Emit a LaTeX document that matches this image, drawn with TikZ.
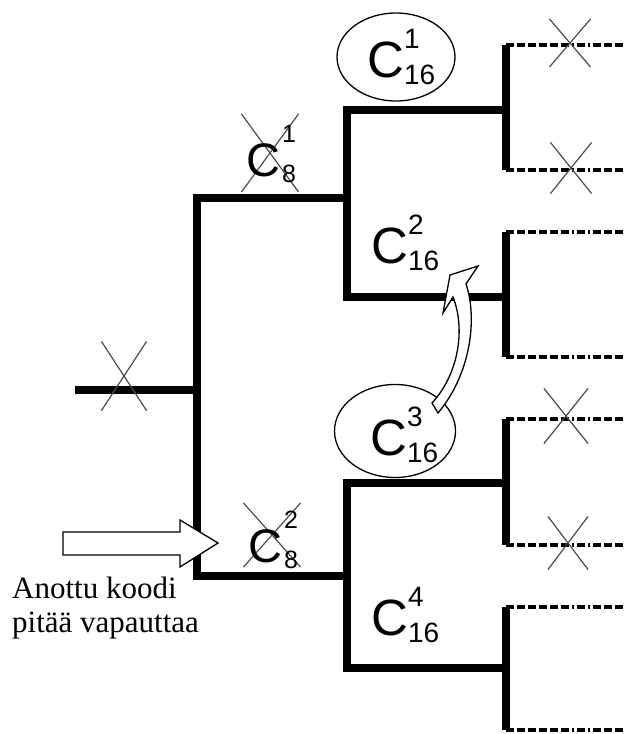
\documentclass[tikz,border=0pt]{standalone}
\usepackage{fontspec}
\setmainfont{Liberation Serif}
\newfontfamily\arialfont{Liberation Sans}
\usepackage{tikz}
\usetikzlibrary{shapes.geometric,shapes.misc}

\newcommand{\cbig}[2]{\fontsize{51}{51}\selectfont C\kern0pt\fontsize{28}{28}\selectfont\rlap{\raisebox{29pt}{#1}}\raisebox{-7pt}{#2}}
\newcommand{\csmall}[2]{\fontsize{47}{47}\selectfont C\kern2pt\fontsize{25}{25}\selectfont\rlap{\raisebox{34pt}{#1}}\raisebox{-6pt}{#2}}

\begin{document}
\begin{tikzpicture}[x=1pt,y=-1pt,line join=miter,
  branch/.style={line width=8pt},
  leaf/.style={line width=4pt,dash pattern=on 8pt off 3pt on 8pt off 3pt on 8pt off 3pt on 8pt off 3pt on 8pt off 3pt on 8pt off 3pt on 2pt off 3pt on 8pt off 3pt on 2pt off 3pt on 8pt off 3pt},
  kill/.style={cross out,draw=black!70,line width=1.2pt,inner sep=0pt},
  oval/.style={ellipse,draw,line width=1.3pt,inner sep=0pt},
  lbl/.style={font=\arialfont,inner sep=0pt,anchor=base west},
  block/.style={draw,line width=1.3pt,fill=white}]
\useasboundingbox (0,0) rectangle (625,734);
\coordinate (in) at (75,390);
\coordinate (n0) at (197,390);
\coordinate (c8a) at (347,198);
\coordinate (c8b) at (347,576);
\coordinate (c16a) at (506,110);
\coordinate (c16b) at (506,297);
\coordinate (c16c) at (506,483);
\coordinate (c16d) at (506,668);
\draw[branch] (in) -- (n0);
\draw[branch] (c8a) -| (n0) |- (c8b);
\draw[branch] (c16a) -| (c8a) |- (c16b);
\draw[branch] (c16c) -| (c8b) |- (c16d);
\foreach \n/\t/\b in {c16a/45/170,c16b/232/357,c16c/419/545,c16d/607/730}{
  \draw[branch] (\n |- 0,\t) -- (\n |- 0,\b);
  \draw[leaf] (\n |- 0,\t) -- (625,\t);
  \draw[leaf] (\n |- 0,\b) -- (625,\b);
}
\node[kill,minimum width=44pt,minimum height=68pt] (x0) at (124,376) {};
\node[kill,minimum width=56pt,minimum height=77pt] (x1) at (270,153) {};
\node[kill,minimum width=56pt,minimum height=63pt] (x2) at (272,535) {};
\node[kill,minimum width=40pt,minimum height=47pt] (x3) at (570,43) {};
\node[kill,minimum width=40pt,minimum height=50pt] (x4) at (571,168) {};
\node[kill,minimum width=43pt,minimum height=54pt] (x5) at (566,416) {};
\node[kill,minimum width=39pt,minimum height=52pt] (x6) at (568,543) {};
\node[oval,minimum width=118pt,minimum height=88pt] (e1) at (396,57) {};
\node[oval,minimum width=121pt,minimum height=93pt] (e3) at (395,431) {};
\node[lbl] (l1) at (367,77) {\cbig{1}{16}};
\node[lbl] (l2) at (371,263) {\cbig{2}{16}};
\node[lbl] (l3) at (370,455) {\cbig{3}{16}};
\node[lbl] (l4) at (371,635) {\cbig{4}{16}};
\node[lbl] (k1) at (246,176) {\csmall{1}{8}};
\node[lbl] (k2) at (248,562) {\csmall{2}{8}};
\draw[block] (466,284) -- (478,266) -- (450,275) -- (443,313) -- (453,297)
  .. controls (466,330) and (458,375) .. (432,403) -- (438,413)
  .. controls (470,375) and (478,320) .. (466,284) -- cycle;
\draw[block] (63,532) -- (180,532) -- (180,520) -- (218,543) -- (180,567) -- (180,555) -- (63,555) -- cycle;
\node[font=\fontsize{31}{34}\selectfont,align=left,anchor=base west,inner sep=0pt] (note) at (12,632) {Anottu koodi\\pitää vapauttaa};
\end{tikzpicture}
\end{document}
